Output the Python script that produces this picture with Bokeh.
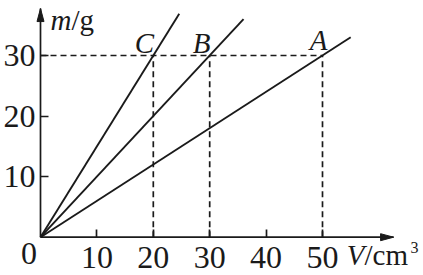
from bokeh.plotting import figure
from bokeh.models import Label, Range1d, LinearAxis, FixedTicker
from bokeh.embed import file_html
from bokeh.resources import INLINE

# ---- data ----
substances = ["A", "B", "C"]
volume_at_30g = [50, 30, 20]          # V / cm^3 where m = 30 g
mass_ref = [30, 30, 30]               # m / g
line_end_volume = [55.0, 36.0, 24.6]  # where each drawn line stops
line_end_mass = [33.0, 36.0, 36.9]
x_ticks = [10, 20, 30, 40, 50]
y_ticks = [10, 20, 30]
x_axis_max = 62.6
y_axis_max = 37.75

# ---- layout ----
W, H = 423, 275
ox, oy = 40.0, 236.7        # origin location in pixels
sx, sy = 5.64, 6.057        # pixels per data unit
INK = "#1a1a1a"
FONT = "Liberation Serif"

p = figure(width=W, height=H,
           x_range=Range1d(-ox / sx, (W - ox) / sx),
           y_range=Range1d(-(H - oy) / sy, oy / sy),
           x_axis_type=None, y_axis_type=None,
           output_backend="svg", toolbar_location=None,
           min_border=0, outline_line_color=None,
           background_fill_color="white", border_fill_color="white")

common = dict(fixed_location=0, axis_line_color=None,
              major_tick_in=8, major_tick_out=0,
              minor_tick_line_color=None,
              major_tick_line_width=1.7, major_tick_line_color=INK,
              major_label_text_font=FONT, major_label_text_font_size="32px",
              major_label_text_color=INK)
yaxis = LinearAxis(ticker=FixedTicker(ticks=y_ticks), major_label_standoff=5, **common)
xaxis = LinearAxis(ticker=FixedTicker(ticks=x_ticks), major_label_standoff=10, **common)
p.add_layout(yaxis, "left")
p.add_layout(xaxis, "below")

# axis shafts
p.segment(x0=[0, 0], y0=[0, 0], x1=[x_axis_max, 0], y1=[0, y_axis_max],
          line_color=INK, line_width=1.7)
# arrow heads (13 px long, 7 px wide)
hl, hw = 13.0, 3.5
p.patches(xs=[[x_axis_max, x_axis_max - hl / sx, x_axis_max - hl / sx],
              [0, -hw / sx, hw / sx]],
          ys=[[0, hw / sy, -hw / sy],
              [y_axis_max, y_axis_max - hl / sy, y_axis_max - hl / sy]],
          fill_color=INK, line_color=INK, line_width=1)

# dashed guides
p.segment(x0=[0], y0=[mass_ref[0]], x1=[max(volume_at_30g)], y1=[mass_ref[0]],
          line_color=INK, line_width=1.7, line_dash="6 4")
p.segment(x0=volume_at_30g, y0=[0] * 3, x1=volume_at_30g, y1=mass_ref,
          line_color=INK, line_width=1.7, line_dash="6 4")

# m-V lines
p.segment(x0=[0] * 3, y0=[0] * 3, x1=line_end_volume, y1=line_end_mass,
          line_color=INK, line_width=1.9)

# point labels
offsets = {"A": (-4, 15), "B": (-8, 12), "C": (-9, 12)}
for name, v, m in zip(substances, volume_at_30g, mass_ref):
    dx, dy = offsets[name]
    p.add_layout(Label(x=v, y=m, text=name, x_offset=dx, y_offset=dy,
                       text_font=FONT, text_font_style="italic",
                       text_font_size="29px", text_color=INK,
                       text_align="center", text_baseline="alphabetic"))

def lab(x, y, text, dx, dy, align, style="normal", size="29px"):
    p.add_layout(Label(x=x, y=y, text=text, x_offset=dx, y_offset=dy,
                       text_font=FONT, text_font_style=style,
                       text_font_size=size, text_color=INK,
                       text_align=align, text_baseline="alphabetic"))

# axis titles
lab(0, y_axis_max, "m", 31, -11, "right", "italic")
lab(0, y_axis_max, "/g", 31, -11, "left")
lab(x_axis_max, 0, "V", -29, -18, "right", "italic")
lab(x_axis_max, 0, "/cm", -29, -18, "left")
lab(x_axis_max, 0, "3", 17, -10, "left", size="16px")

# origin label
p.add_layout(Label(x=0, y=0, text="0", x_offset=-11.5, y_offset=-16,
                   text_font=FONT, text_font_size="32px", text_color=INK,
                   text_align="center", text_baseline="middle"))

open("out.html", "w").write(file_html(p, INLINE))
